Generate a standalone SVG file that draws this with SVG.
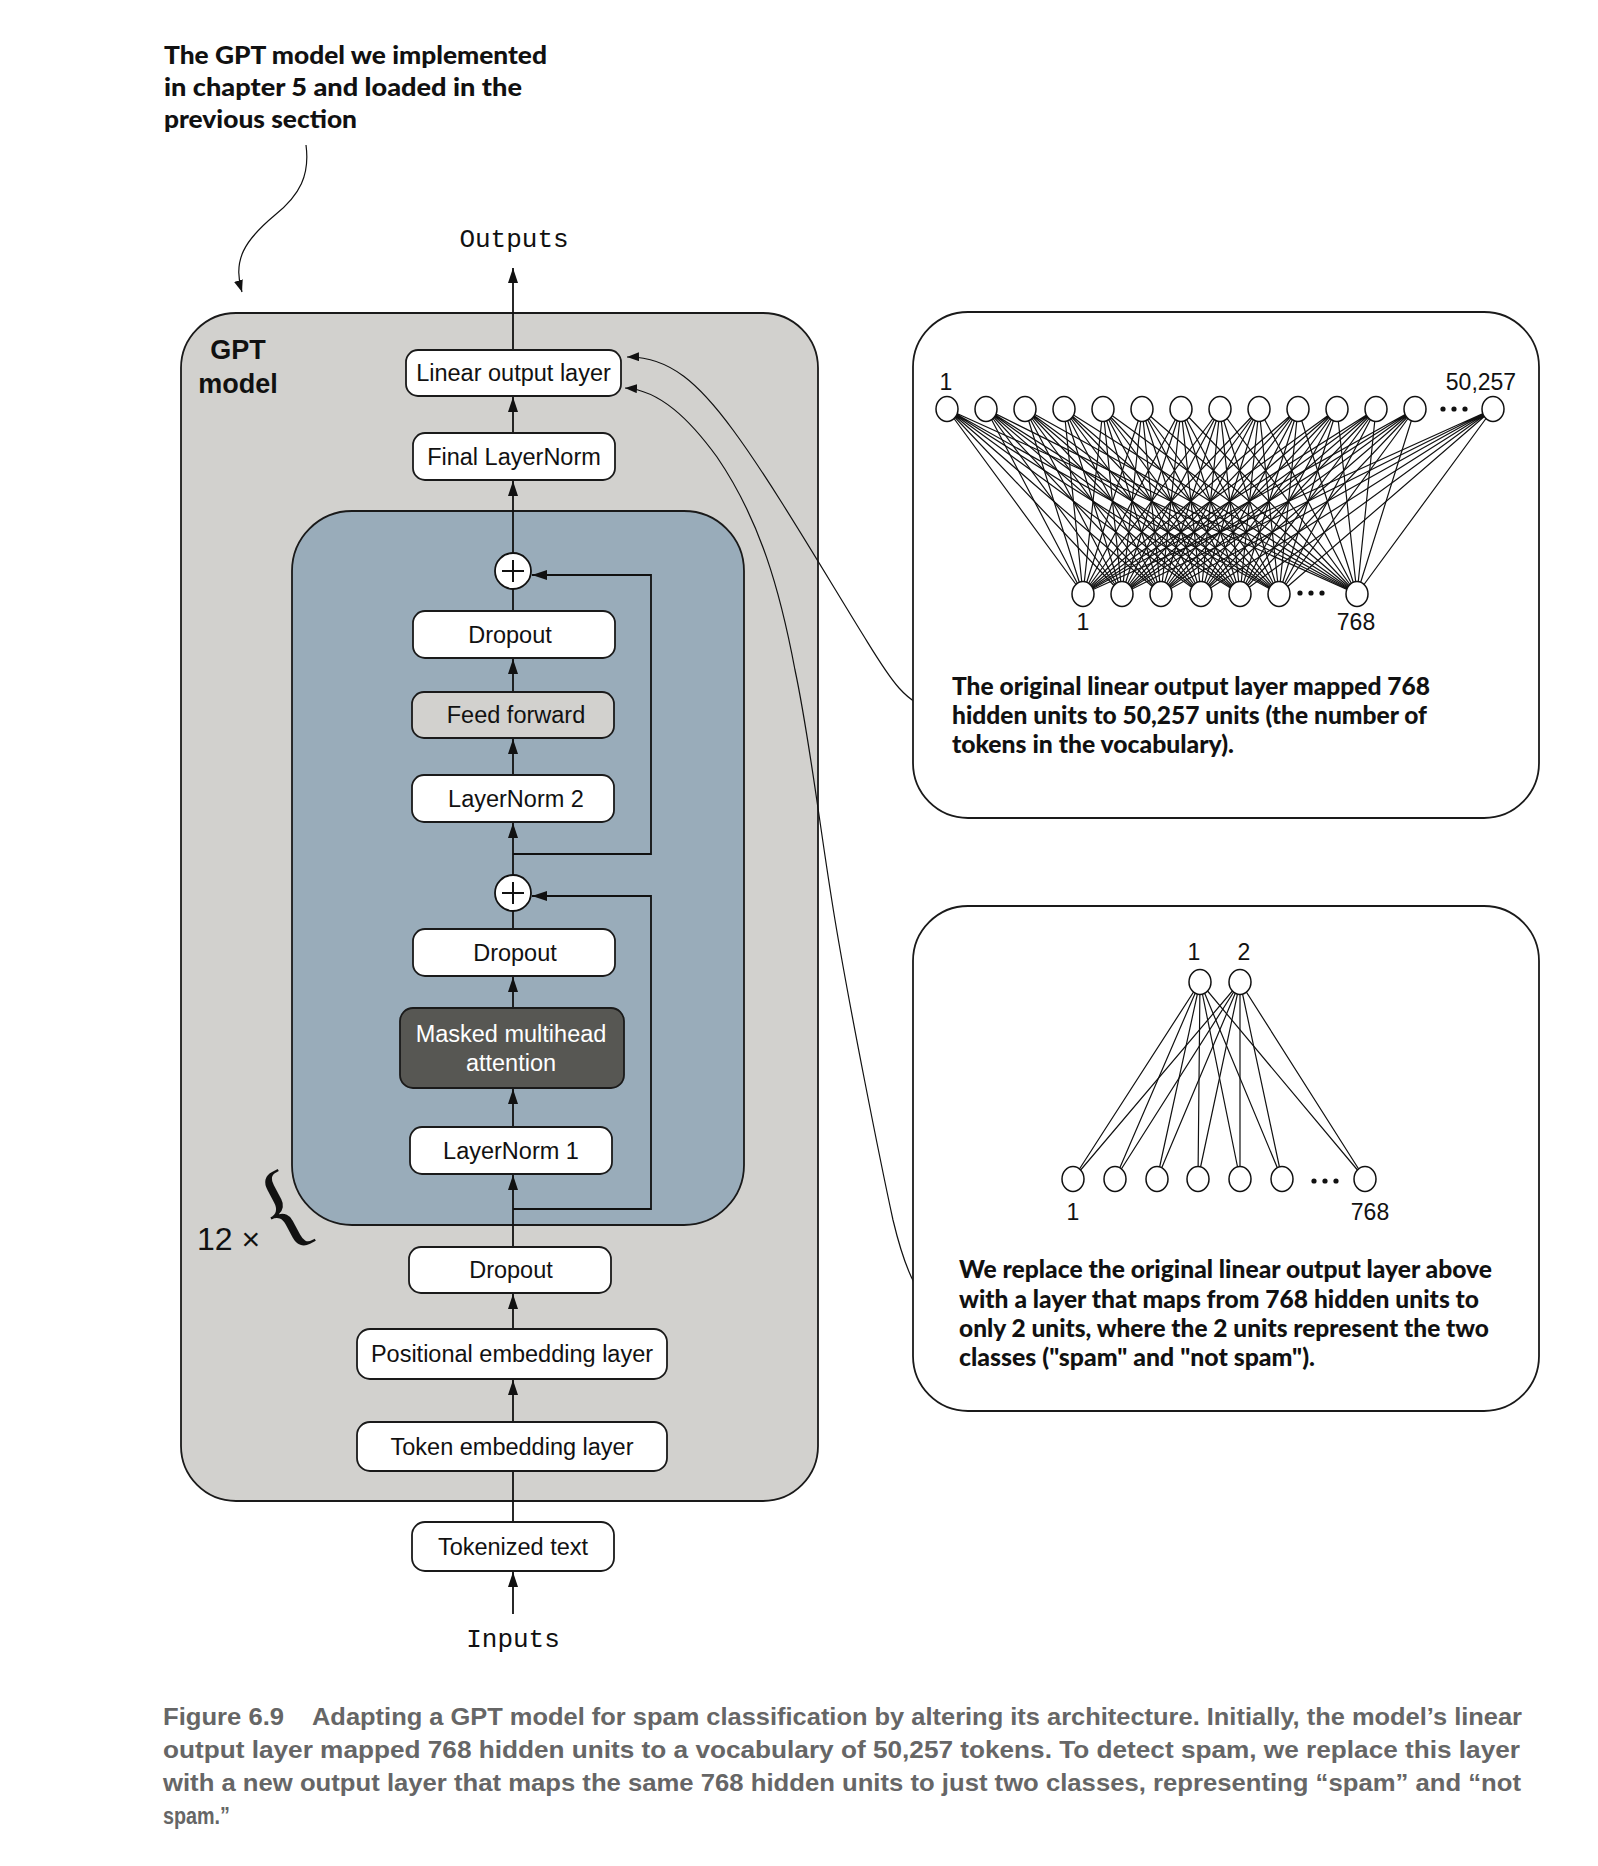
<svg xmlns="http://www.w3.org/2000/svg" width="1598" height="1866" viewBox="0 0 1598 1866">
  <defs>
    <marker id="arrow" markerUnits="userSpaceOnUse" viewBox="0 0 15 10" markerWidth="15" markerHeight="10" refX="15" refY="5" orient="auto">
      <path d="M0,0 L15,5 L0,10 z" fill="#111"/>
    </marker>
    <marker id="arrowSmall" markerUnits="userSpaceOnUse" viewBox="0 0 12 9" markerWidth="12" markerHeight="9" refX="12" refY="4.5" orient="auto">
      <path d="M0,0 L12,4.5 L0,9 z" fill="#111"/>
    </marker>
    <style>
      .box { fill: #ffffff; stroke: #1a1a1a; stroke-width: 1.8; }
      .lbl { font-family: "Liberation Sans", Arial, sans-serif; font-size: 23.5px; fill: #111; text-anchor: middle; }
      .num { font-family: "Liberation Sans", Arial, sans-serif; font-size: 23px; fill: #111; text-anchor: middle; }
      .mono { font-family: "Liberation Mono", "Courier New", monospace; font-size: 26px; fill: #111; text-anchor: middle; }
      .note { font-family: Lato, "Open Sans", "Liberation Sans", sans-serif; font-weight: 900; font-size: 25px; fill: #111; }
      .cap { font-family: "Liberation Sans Narrow", "Liberation Sans", Arial, sans-serif; font-weight: 700; font-size: 24px; fill: #666; }
      .flow { fill: none; stroke: #111; stroke-width: 1.8; }
      .curve { fill: none; stroke: #111; stroke-width: 1.2; }
      .mesh { fill: none; stroke: #111; stroke-width: 1.2; }
      .unit { fill: #ffffff; stroke: #111; stroke-width: 1.5; }
      .dot { fill: #111; }
    </style>
  </defs>

  <!-- annotation above the model -->
  <g id="title-note">
    <text class="note" x="164" y="64" textLength="383" lengthAdjust="spacingAndGlyphs">The GPT model we implemented</text>
    <text class="note" x="164" y="96" textLength="358" lengthAdjust="spacingAndGlyphs">in chapter 5 and loaded in the</text>
    <text class="note" x="164" y="128" textLength="193" lengthAdjust="spacingAndGlyphs">previous section</text>
  </g>

  <!-- GPT model container -->
  <g id="gpt-model">
    <rect x="181" y="313" width="637" height="1188" rx="55" fill="#d2d1ce" stroke="#1a1a1a" stroke-width="1.8"/>
    <text x="238" y="359" font-family="Liberation Sans, Arial, sans-serif" font-weight="700" font-size="27" text-anchor="middle" fill="#111">GPT</text>
    <text x="238" y="393" font-family="Liberation Sans, Arial, sans-serif" font-weight="700" font-size="27" text-anchor="middle" fill="#111">model</text>
  </g>

  <!-- transformer block container -->
  <g id="transformer-block">
    <rect x="292" y="511" width="452" height="714" rx="60" fill="#99acba" stroke="#1a1a1a" stroke-width="1.8"/>
  </g>

  <!-- repetition brace -->
  <g id="repeat-label">
    <text x="197" y="1250" font-family="Liberation Sans, Arial, sans-serif" font-size="32" fill="#111">12 ×</text>
    <text transform="translate(285,1214) rotate(-28)" x="0" y="25" font-family="Liberation Serif, Times New Roman, serif" font-size="98" text-anchor="middle" fill="#111">{</text>
  </g>

  <!-- connectors -->
  <g id="connectors">
    <path class="flow" d="M513 350 L513 268" marker-end="url(#arrow)"/>
    <path class="flow" d="M513 433 L513 397" marker-end="url(#arrow)"/>
    <path class="flow" d="M513 553 L513 481" marker-end="url(#arrow)"/>
    <path class="flow" d="M513 611 L513 589"/>
    <path class="flow" d="M513 692 L513 659" marker-end="url(#arrow)"/>
    <path class="flow" d="M513 775 L513 739" marker-end="url(#arrow)"/>
    <path class="flow" d="M513 875 L513 823" marker-end="url(#arrow)"/>
    <path class="flow" d="M513 929 L513 911"/>
    <path class="flow" d="M513 1008 L513 977" marker-end="url(#arrow)"/>
    <path class="flow" d="M513 1127 L513 1089" marker-end="url(#arrow)"/>
    <path class="flow" d="M513 1247 L513 1175" marker-end="url(#arrow)"/>
    <path class="flow" d="M513 1329 L513 1294" marker-end="url(#arrow)"/>
    <path class="flow" d="M513 1422 L513 1380" marker-end="url(#arrow)"/>
    <path class="flow" d="M513 1522 L513 1471"/>
    <path class="flow" d="M513 1614 L513 1572" marker-end="url(#arrow)"/>
    <!-- residual shortcuts -->
    <path class="flow" d="M513 854 H651 V575 H532" marker-end="url(#arrow)"/>
    <path class="flow" d="M513 1209 H651 V896 H532" marker-end="url(#arrow)"/>
    <!-- annotation arrows -->
    <path class="curve" d="M306 145 C310 175, 300 195, 275 215 C245 240, 232 260, 242 292" marker-end="url(#arrowSmall)"/>
    <path class="curve" d="M935 708 C905 708, 885 670, 860 630 C820 565, 770 480, 733 430 C700 385, 670 356, 627 357" marker-end="url(#arrowSmall)"/>
    <path class="curve" d="M943 1307 C920 1307, 905 1270, 893 1220 C880 1160, 850 1010, 835 920 C820 830, 810 740, 795 670 C780 590, 760 520, 717 457 C690 420, 660 390, 625 388" marker-end="url(#arrowSmall)"/>
  </g>

  <!-- layer nodes -->
  <g id="linear-output-layer">
    <rect class="box" x="406" y="350" width="215" height="46" rx="12"/>
    <text class="lbl" x="513.5" y="381">Linear output layer</text>
  </g>
  <g id="final-layernorm">
    <rect class="box" x="413" y="433" width="202" height="47" rx="12"/>
    <text class="lbl" x="514" y="464.5">Final LayerNorm</text>
  </g>
  <g id="residual-add-2">
    <circle cx="513" cy="571" r="18" fill="#fff" stroke="#111" stroke-width="1.8"/>
    <path d="M502 571 H524 M513 560 V582" stroke="#111" stroke-width="2" fill="none"/>
  </g>
  <g id="dropout-ff">
    <rect class="box" x="413" y="611" width="202" height="47" rx="12"/>
    <text class="lbl" x="510" y="642.5">Dropout</text>
  </g>
  <g id="feed-forward">
    <rect x="412" y="692" width="202" height="46" rx="12" fill="#d2d1ce" stroke="#1a1a1a" stroke-width="1.8"/>
    <text class="lbl" x="516" y="723">Feed forward</text>
  </g>
  <g id="layernorm-2">
    <rect class="box" x="412" y="775" width="202" height="47" rx="12"/>
    <text class="lbl" x="516" y="806.5">LayerNorm 2</text>
  </g>
  <g id="residual-add-1">
    <circle cx="513" cy="893" r="18" fill="#fff" stroke="#111" stroke-width="1.8"/>
    <path d="M502 893 H524 M513 882 V904" stroke="#111" stroke-width="2" fill="none"/>
  </g>
  <g id="dropout-attn">
    <rect class="box" x="413" y="929" width="202" height="47" rx="12"/>
    <text class="lbl" x="515" y="960.5">Dropout</text>
  </g>
  <g id="masked-attention">
    <rect x="400" y="1008" width="224" height="80" rx="13" fill="#575753" stroke="#1a1a1a" stroke-width="1.8"/>
    <text class="lbl" x="511" y="1042" style="fill:#fff">Masked multihead</text>
    <text class="lbl" x="511" y="1071" style="fill:#fff">attention</text>
  </g>
  <g id="layernorm-1">
    <rect class="box" x="410" y="1127" width="202" height="47" rx="12"/>
    <text class="lbl" x="511" y="1158.5">LayerNorm 1</text>
  </g>
  <g id="dropout-embed">
    <rect class="box" x="409" y="1247" width="202" height="46" rx="12"/>
    <text class="lbl" x="511" y="1278">Dropout</text>
  </g>
  <g id="positional-embedding">
    <rect class="box" x="357" y="1329" width="310" height="50" rx="13"/>
    <text class="lbl" x="512" y="1362">Positional embedding layer</text>
  </g>
  <g id="token-embedding">
    <rect class="box" x="357" y="1422" width="310" height="49" rx="13"/>
    <text class="lbl" x="512" y="1454.5">Token embedding layer</text>
  </g>
  <g id="tokenized-text">
    <rect class="box" x="412" y="1522" width="202" height="49" rx="13"/>
    <text class="lbl" x="513" y="1554.5">Tokenized text</text>
  </g>
  <g id="outputs">
    <text class="mono" x="514" y="247">Outputs</text>
  </g>
  <g id="inputs">
    <text class="mono" x="513" y="1647">Inputs</text>
  </g>

  <!-- original output layer: 768 -> 50,257 -->
  <g id="original-head">
    <rect x="913" y="312" width="626" height="506" rx="55" fill="#fff" stroke="#1a1a1a" stroke-width="1.8"/>
    <g class="mesh-lines">
      <path class="mesh" d="M947 409L1083 594M947 409L1122 594M947 409L1161 594M947 409L1201 594M947 409L1240 594M947 409L1279 594M947 409L1357 594"/>
      <path class="mesh" d="M986 409L1083 594M986 409L1122 594M986 409L1161 594M986 409L1201 594M986 409L1240 594M986 409L1279 594M986 409L1357 594"/>
      <path class="mesh" d="M1025 409L1083 594M1025 409L1122 594M1025 409L1161 594M1025 409L1201 594M1025 409L1240 594M1025 409L1279 594M1025 409L1357 594"/>
      <path class="mesh" d="M1064 409L1083 594M1064 409L1122 594M1064 409L1161 594M1064 409L1201 594M1064 409L1240 594M1064 409L1279 594M1064 409L1357 594"/>
      <path class="mesh" d="M1103 409L1083 594M1103 409L1122 594M1103 409L1161 594M1103 409L1201 594M1103 409L1240 594M1103 409L1279 594M1103 409L1357 594"/>
      <path class="mesh" d="M1142 409L1083 594M1142 409L1122 594M1142 409L1161 594M1142 409L1201 594M1142 409L1240 594M1142 409L1279 594M1142 409L1357 594"/>
      <path class="mesh" d="M1181 409L1083 594M1181 409L1122 594M1181 409L1161 594M1181 409L1201 594M1181 409L1240 594M1181 409L1279 594M1181 409L1357 594"/>
      <path class="mesh" d="M1220 409L1083 594M1220 409L1122 594M1220 409L1161 594M1220 409L1201 594M1220 409L1240 594M1220 409L1279 594M1220 409L1357 594"/>
      <path class="mesh" d="M1259 409L1083 594M1259 409L1122 594M1259 409L1161 594M1259 409L1201 594M1259 409L1240 594M1259 409L1279 594M1259 409L1357 594"/>
      <path class="mesh" d="M1298 409L1083 594M1298 409L1122 594M1298 409L1161 594M1298 409L1201 594M1298 409L1240 594M1298 409L1279 594M1298 409L1357 594"/>
      <path class="mesh" d="M1337 409L1083 594M1337 409L1122 594M1337 409L1161 594M1337 409L1201 594M1337 409L1240 594M1337 409L1279 594M1337 409L1357 594"/>
      <path class="mesh" d="M1376 409L1083 594M1376 409L1122 594M1376 409L1161 594M1376 409L1201 594M1376 409L1240 594M1376 409L1279 594M1376 409L1357 594"/>
      <path class="mesh" d="M1415 409L1083 594M1415 409L1122 594M1415 409L1161 594M1415 409L1201 594M1415 409L1240 594M1415 409L1279 594M1415 409L1357 594"/>
      <path class="mesh" d="M1493 409L1083 594M1493 409L1122 594M1493 409L1161 594M1493 409L1201 594M1493 409L1240 594M1493 409L1279 594M1493 409L1357 594"/>
    </g>
    <g class="units-out">
      <ellipse class="unit" cx="947" cy="409" rx="11" ry="12.5"/>
      <ellipse class="unit" cx="986" cy="409" rx="11" ry="12.5"/>
      <ellipse class="unit" cx="1025" cy="409" rx="11" ry="12.5"/>
      <ellipse class="unit" cx="1064" cy="409" rx="11" ry="12.5"/>
      <ellipse class="unit" cx="1103" cy="409" rx="11" ry="12.5"/>
      <ellipse class="unit" cx="1142" cy="409" rx="11" ry="12.5"/>
      <ellipse class="unit" cx="1181" cy="409" rx="11" ry="12.5"/>
      <ellipse class="unit" cx="1220" cy="409" rx="11" ry="12.5"/>
      <ellipse class="unit" cx="1259" cy="409" rx="11" ry="12.5"/>
      <ellipse class="unit" cx="1298" cy="409" rx="11" ry="12.5"/>
      <ellipse class="unit" cx="1337" cy="409" rx="11" ry="12.5"/>
      <ellipse class="unit" cx="1376" cy="409" rx="11" ry="12.5"/>
      <ellipse class="unit" cx="1415" cy="409" rx="11" ry="12.5"/>
      <ellipse class="unit" cx="1493" cy="409" rx="11" ry="12.5"/>
      <circle class="dot" cx="1443" cy="409" r="2.6"/>
      <circle class="dot" cx="1454" cy="409" r="2.6"/>
      <circle class="dot" cx="1465" cy="409" r="2.6"/>
    </g>
    <g class="units-in">
      <ellipse class="unit" cx="1083" cy="594" rx="11" ry="12.5"/>
      <ellipse class="unit" cx="1122" cy="594" rx="11" ry="12.5"/>
      <ellipse class="unit" cx="1161" cy="594" rx="11" ry="12.5"/>
      <ellipse class="unit" cx="1201" cy="594" rx="11" ry="12.5"/>
      <ellipse class="unit" cx="1240" cy="594" rx="11" ry="12.5"/>
      <ellipse class="unit" cx="1279" cy="594" rx="11" ry="12.5"/>
      <ellipse class="unit" cx="1357" cy="594" rx="11" ry="12.5"/>
      <circle class="dot" cx="1300" cy="593" r="2.6"/>
      <circle class="dot" cx="1311" cy="593" r="2.6"/>
      <circle class="dot" cx="1322" cy="593" r="2.6"/>
    </g>
    <text class="num" x="946" y="390">1</text>
    <text class="num" x="1481" y="390">50,257</text>
    <text class="num" x="1083" y="630">1</text>
    <text class="num" x="1356" y="630">768</text>
    <text class="note" x="952" y="695" textLength="478" lengthAdjust="spacingAndGlyphs">The original linear output layer mapped 768</text>
    <text class="note" x="952" y="724" textLength="475" lengthAdjust="spacingAndGlyphs">hidden units to 50,257 units (the number of</text>
    <text class="note" x="952" y="753" textLength="282" lengthAdjust="spacingAndGlyphs">tokens in the vocabulary).</text>
  </g>

  <!-- replacement output layer: 768 -> 2 -->
  <g id="classifier-head">
    <rect x="913" y="906" width="626" height="505" rx="55" fill="#fff" stroke="#1a1a1a" stroke-width="1.8"/>
    <path class="mesh" d="M1200 982L1073 1179M1200 982L1115 1179M1200 982L1157 1179M1200 982L1198 1179M1200 982L1240 1179M1200 982L1282 1179M1200 982L1365 1179"/>
    <path class="mesh" d="M1240 982L1073 1179M1240 982L1115 1179M1240 982L1157 1179M1240 982L1198 1179M1240 982L1240 1179M1240 982L1282 1179M1240 982L1365 1179"/>
    <ellipse class="unit" cx="1200" cy="982" rx="11" ry="12.5"/>
    <ellipse class="unit" cx="1240" cy="982" rx="11" ry="12.5"/>
    <ellipse class="unit" cx="1073" cy="1179" rx="11" ry="12.5"/>
    <ellipse class="unit" cx="1115" cy="1179" rx="11" ry="12.5"/>
    <ellipse class="unit" cx="1157" cy="1179" rx="11" ry="12.5"/>
    <ellipse class="unit" cx="1198" cy="1179" rx="11" ry="12.5"/>
    <ellipse class="unit" cx="1240" cy="1179" rx="11" ry="12.5"/>
    <ellipse class="unit" cx="1282" cy="1179" rx="11" ry="12.5"/>
    <ellipse class="unit" cx="1365" cy="1179" rx="11" ry="12.5"/>
    <circle class="dot" cx="1314" cy="1181" r="2.6"/>
    <circle class="dot" cx="1325" cy="1181" r="2.6"/>
    <circle class="dot" cx="1336" cy="1181" r="2.6"/>
    <text class="num" x="1194" y="960">1</text>
    <text class="num" x="1244" y="960">2</text>
    <text class="num" x="1073" y="1220">1</text>
    <text class="num" x="1370" y="1220">768</text>
    <text class="note" x="959" y="1278" textLength="533" lengthAdjust="spacingAndGlyphs">We replace the original linear output layer above</text>
    <text class="note" x="959" y="1308" textLength="520" lengthAdjust="spacingAndGlyphs">with a layer that maps from 768 hidden units to</text>
    <text class="note" x="959" y="1337" textLength="530" lengthAdjust="spacingAndGlyphs">only 2 units, where the 2 units represent the two</text>
    <text class="note" x="959" y="1366" textLength="356" lengthAdjust="spacingAndGlyphs">classes ("spam" and "not spam").</text>
  </g>

  <!-- figure caption -->
  <g id="caption">
    <text class="cap" x="163" y="1725" textLength="121" lengthAdjust="spacingAndGlyphs">Figure 6.9</text>
    <text class="cap" x="312" y="1725" textLength="1210" lengthAdjust="spacingAndGlyphs">Adapting a GPT model for spam classification by altering its architecture. Initially, the model’s linear</text>
    <text class="cap" x="163" y="1758" textLength="1357" lengthAdjust="spacingAndGlyphs">output layer mapped 768 hidden units to a vocabulary of 50,257 tokens. To detect spam, we replace this layer</text>
    <text class="cap" x="163" y="1791" textLength="1358" lengthAdjust="spacingAndGlyphs">with a new output layer that maps the same 768 hidden units to just two classes, representing “spam” and “not</text>
    <text class="cap" x="163" y="1824" textLength="67" lengthAdjust="spacingAndGlyphs">spam.”</text>
  </g>
</svg>
